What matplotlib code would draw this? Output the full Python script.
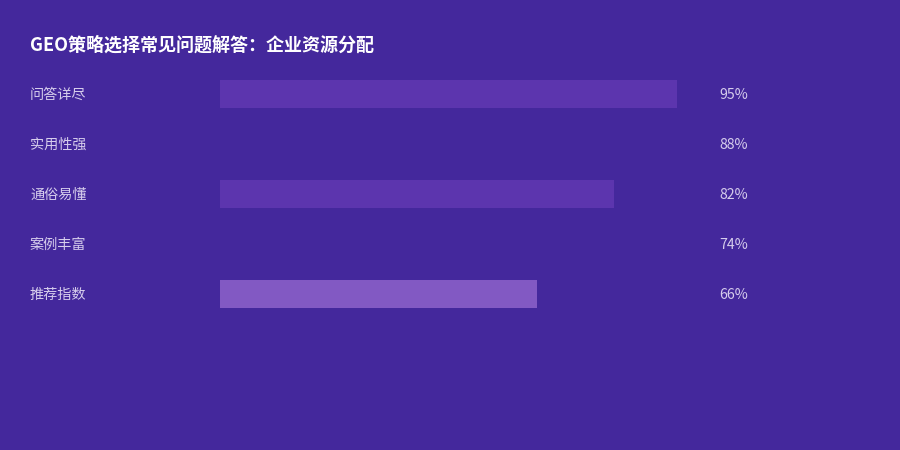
"""
GEO strategy FAQ bar chart
"""
import matplotlib
matplotlib.use("Agg")
import matplotlib.pyplot as plt
from matplotlib.transforms import blended_transform_factory

plt.rcParams['font.family'] = ['Noto Sans CJK SC', 'DejaVu Sans']

#data
categories = ["问答详尽", "实用性强", "通俗易懂", "案例丰富", "推荐指数"]
values = [95, 88, 82, 74, 66]
value_labels = ["95%", "88%", "82%", "74%", "66%"]
title = "GEO策略选择常见问题解答：企业资源分配"

#colours
bg = "#44289c"
bar_colors = ["#5c35ae", bg, "#5c35ae", bg, "#8259c3"]
label_color = "#d6cdec"

fig = plt.figure(figsize=(9, 4.5), dpi=100, facecolor=bg)
ax = fig.add_axes([220 / 900, 131 / 450, 481 / 900, 250 / 450])
ax.set_facecolor(bg)

rows = list(range(len(categories)))
ax.barh(rows, values, height=0.56, color=bar_colors, linewidth=0)
ax.set_xlim(0, 100)
ax.set_ylim(len(categories) - 0.5, -0.5)
ax.axis("off")

trans = blended_transform_factory(fig.transFigure, ax.transData)
for row, cat, lab in zip(rows, categories, value_labels):
    ax.text(30 / 900, row + 0.02, cat, transform=trans, ha="left", va="center",
            fontsize=10.2, color=label_color)
    ax.text(719.5 / 900, row + 0.02, lab, transform=trans, ha="left", va="center",
            fontsize=10.2, color=label_color)

fig.text(30 / 900, 1 - 45 / 450, title, ha="left", va="center",
         fontsize=13, fontweight="bold", color="white")

fig.savefig("out.png", dpi=100, facecolor=bg)
